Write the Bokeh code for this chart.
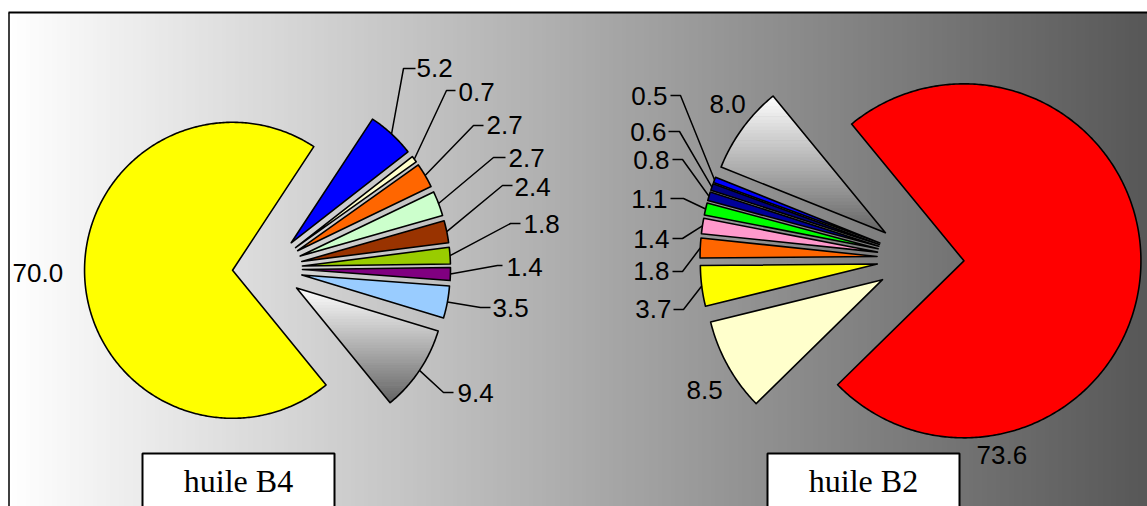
import numpy as np
from bokeh.plotting import figure
from bokeh.models import Range1d
from bokeh.embed import file_html
from bokeh.resources import INLINE
from bokeh.core.properties import value

# ---------------- data ----------------
b4_name = "huile B4"
b4_values = [70.0, 5.2, 0.7, 2.7, 2.7, 2.4, 1.8, 1.4, 3.5, 9.4]
b4_colors = ["#FFFF00", "#0000FF", "#FFFFCC", "#FF6600", "#CCFFCC",
             "#993300", "#99CC00", "#800080", "#99CCFF", "gradient"]

b2_name = "huile B2"
b2_values = [73.6, 8.5, 3.7, 1.8, 1.4, 1.1, 0.8, 0.6, 0.5, 8.0]
b2_colors = ["#FF0000", "#FFFFCC", "#FFFF00", "#FF6600", "#FF99CC",
             "#00FF00", "#000099", "#000080", "#0000FF", "gradient"]

# ---------------- layout (picture pixel coordinates) ----------------
W, H = 1147, 506
b4_layout = dict(center=(267, 268), radius=148, explode=35, start=309.2)
b2_layout = dict(center=(920, 258), radius=177, explode=43.5, start=129.4)

b4_text_xy = [(12, 272), (416, 67), (458, 91), (486, 124), (508, 157),
              (514, 186), (523, 223), (506, 266), (492, 307), (457, 392)]
b4_text_align = ["left"] * 10
b4_elbow = [None, (403, 68), (446, 90), (473, 125), (493, 157), (502, 185),
            (510, 223), (497, 265), (480, 307), (443, 392)]
b4_end = [None, (415, 68), (455, 90), (483, 125), (505, 157), (512, 185),
          (520, 223), (502, 265), (490, 307), (453, 392)]

b2_text_xy = [(976, 454), (686, 389), (671, 308), (669, 270), (669, 238),
              (667, 198), (669, 159), (666, 131), (667, 95), (709, 103)]
b2_text_align = ["left", "left", "right", "right", "right", "right",
                 "right", "right", "right", "left"]
b2_elbow = [None, None, (683, 309), (682, 271), (682, 238), (683, 198),
            (682, 159), (679, 131), (680, 95), None]
b2_end = [None, None, (673, 309), (672, 271), (672, 238), (670, 198),
          (672, 159), (668, 131), (670, 95), None]

boxes = [(b4_name, 142, 334), (b2_name, 767, 959)]

# ---------------- figure ----------------
p = figure(width=W, height=H, x_range=Range1d(0, W), y_range=Range1d(H, 0),
           output_backend="svg", toolbar_location=None, min_border=0,
           x_axis_type=None, y_axis_type=None)
p.grid.visible = False
p.outline_line_color = None
p.background_fill_color = "white"
p.border_fill_color = "white"

# background gradient (white -> dark grey, left to right)
N = 256
g = np.linspace(255, 88, N).astype(np.uint8)
img = np.empty((1, N), dtype=np.uint32)
view = img.view(dtype=np.uint8).reshape((1, N, 4))
view[0, :, 0] = g
view[0, :, 1] = g
view[0, :, 2] = g
view[0, :, 3] = 255
p.image_rgba(image=[img], x=8, y=12, dw=W - 8, dh=H - 12)

# frame lines
p.line(x=[8, W], y=[12, 12], line_color="black", line_width=2)
p.line(x=[8.5, 8.5], y=[12, H], line_color="black", line_width=1.5)


def clip_band(poly, y0, y1):
    def clip(pts, keep, inter):
        out = []
        n = len(pts)
        for i in range(n):
            a, b = pts[i], pts[(i + 1) % n]
            ka, kb = keep(a), keep(b)
            if ka:
                out.append(a)
            if ka != kb:
                out.append(inter(a, b))
        return out

    def ix(a, b, yy):
        t = (yy - a[1]) / (b[1] - a[1])
        return (a[0] + t * (b[0] - a[0]), yy)

    pts = clip(poly, lambda q: q[1] >= y0, lambda a, b: ix(a, b, y0))
    if not pts:
        return []
    pts = clip(pts, lambda q: q[1] <= y1, lambda a, b: ix(a, b, y1))
    return pts


def draw_pie(values, colors, lay, text_xy, text_align, elbow, end):
    cx, cy = lay["center"]
    r, e = lay["radius"], lay["explode"]
    total = sum(values)
    a = lay["start"]
    solid_xs, solid_ys, solid_c = [], [], []
    outline_xs, outline_ys = [], []
    lead_xs, lead_ys = [], []
    for i, v in enumerate(values):
        sweep = v / total * 360.0
        a0, a1 = a, a - sweep
        a = a1
        mid = np.radians((a0 + a1) / 2)
        tx = cx + e * np.cos(mid)
        ty = cy - e * np.sin(mid)
        n = max(4, int(abs(sweep) * 1.5))
        ang = np.radians(np.linspace(a0, a1, n))
        xs = [tx] + list(tx + r * np.cos(ang))
        ys = [ty] + list(ty - r * np.sin(ang))
        outline_xs.append(xs)
        outline_ys.append(ys)
        if colors[i] == "gradient":
            poly = list(zip(xs, ys))
            ymin, ymax = min(ys), max(ys)
            nb = 40
            edges = np.linspace(ymin, ymax, nb + 1)
            for k in range(nb):
                band = clip_band(poly, edges[k] - 0.3, edges[k + 1] + 0.3)
                if len(band) < 3:
                    continue
                t = (k + 0.5) / nb
                gv = int(round(255 - t * (255 - 100)))
                solid_xs.append([q[0] for q in band])
                solid_ys.append([q[1] for q in band])
                solid_c.append("#%02x%02x%02x" % (gv, gv, gv))
        else:
            solid_xs.append(xs)
            solid_ys.append(ys)
            solid_c.append(colors[i])
        if elbow[i] is not None:
            sx = tx + r * np.cos(mid)
            sy = ty - r * np.sin(mid)
            lead_xs.append([sx, elbow[i][0], end[i][0]])
            lead_ys.append([sy, elbow[i][1], end[i][1]])
    p.patches(xs=solid_xs, ys=solid_ys, fill_color=solid_c, line_color=None)
    p.patches(xs=outline_xs, ys=outline_ys, fill_alpha=0, line_color="black",
              line_width=1.6, line_join="round")
    p.multi_line(xs=lead_xs, ys=lead_ys, line_color="black", line_width=1.5)
    labels = ["%.1f" % v for v in values]
    for i, lab in enumerate(labels):
        p.text(x=[text_xy[i][0]], y=[text_xy[i][1]], text=[lab],
               text_font=value("Liberation Sans"), text_font_size="26px",
               text_color="black", text_align=text_align[i],
               text_baseline="middle")


draw_pie(b4_values, b4_colors, b4_layout, b4_text_xy, b4_text_align, b4_elbow, b4_end)
draw_pie(b2_values, b2_colors, b2_layout, b2_text_xy, b2_text_align, b2_elbow, b2_end)

for name, x0, x1 in boxes:
    p.quad(left=[x0], right=[x1], top=[453], bottom=[530], fill_color="white",
           line_color="black", line_width=2)
    p.text(x=[(x0 + x1) / 2], y=[480], text=[name],
           text_font=value("Liberation Serif"), text_font_size="32px",
           text_color="black", text_align="center", text_baseline="middle")

open("out.html", "w").write(file_html(p, INLINE))
